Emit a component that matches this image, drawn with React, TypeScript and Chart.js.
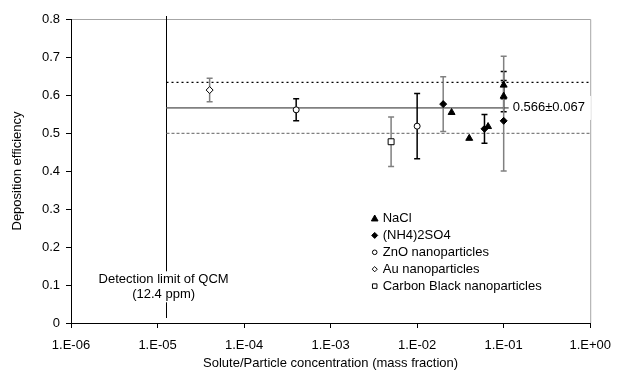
import { useEffect, useRef } from 'react';
import { Chart, registerables } from 'chart.js';

Chart.register(...registerables);

// ---- data ----
const xTickExponents = [-6, -5, -4, -3, -2, -1, 0];
const yTickValues = [0, 0.1, 0.2, 0.3, 0.4, 0.5, 0.6, 0.7, 0.8];

const seriesNames = ['NaCl', '(NH4)2SO4', 'ZnO nanoparticles', 'Au nanoparticles', 'Carbon Black nanoparticles'];

const naclX = [0.025, 0.04, 0.066, 0.1, 0.1];
const naclY = [0.554, 0.486, 0.517, 0.626, 0.597];
const naclErrHi = [0, 0, 0, 0.036, 0.041];
const naclErrLo = [0, 0, 0, 0.036, 0.041];

const amsX = [0.02, 0.06, 0.1];
const amsY = [0.576, 0.511, 0.532];
const amsErrHi = [0.072, 0.038, 0.17];
const amsErrLo = [0.072, 0.038, 0.132];

const znoX = [4e-4, 0.01];
const znoY = [0.561, 0.518];
const znoErr = [0.029, 0.086];

const auX = [4e-5];
const auY = [0.613];
const auErr = [0.031];

const cbX = [5e-3];
const cbY = [0.477];
const cbErr = [0.065];

const meanEff = 0.566;
const sdEff = 0.067;
const detectionLimit = 12.4e-6;
const meanLabel = '0.566±0.067';
const detectionText = ['Detection limit of QCM', '(12.4 ppm)'];
const xTitle = 'Solute/Particle concentration (mass fraction)';
const yTitle = 'Deposition efficiency';

const FONT = "'Liberation Sans', Arial, Helvetica, sans-serif";
const GRAY = '#808080';
const BLACK = '#000000';

const pts = (xs: number[], ys: number[]) => xs.map((x, i) => ({ x, y: ys[i] }));

function drawMarker(ctx: CanvasRenderingContext2D, style: string, x: number, y: number, r: number, fill: string) {
  ctx.beginPath();
  if (style === 'triangle') {
    ctx.moveTo(x, y - r);
    ctx.lineTo(x + r * 0.95, y + r * 0.7);
    ctx.lineTo(x - r * 0.95, y + r * 0.7);
    ctx.closePath();
  } else if (style === 'rectRot') {
    ctx.moveTo(x, y - r);
    ctx.lineTo(x + r, y);
    ctx.lineTo(x, y + r);
    ctx.lineTo(x - r, y);
    ctx.closePath();
  } else if (style === 'circle') {
    ctx.arc(x, y, r, 0, Math.PI * 2);
  } else {
    ctx.rect(x - r * 0.75, y - r * 0.75, r * 1.5, r * 1.5);
  }
  ctx.fillStyle = fill;
  ctx.fill();
  ctx.strokeStyle = BLACK;
  ctx.lineWidth = 1;
  ctx.stroke();
}

const overlay = {
  id: 'overlay',
  beforeDatasetsDraw(chart: any) {
    const { ctx, chartArea: ca, scales } = chart;
    const xs = scales.x;
    const ys = scales.y;
    ctx.save();
    // top & right frame
    ctx.strokeStyle = '#a6a6a6';
    ctx.lineWidth = 1;
    ctx.beginPath();
    ctx.moveTo(ca.left + 1, ca.top + 0.5);
    ctx.lineTo(ca.right + 0.5, ca.top + 0.5);
    ctx.lineTo(ca.right + 0.5, ca.bottom);
    ctx.stroke();

    // detection limit line
    const dx = Math.round(xs.getPixelForValue(detectionLimit)) + 0.5;
    ctx.strokeStyle = BLACK;
    ctx.lineWidth = 1;
    ctx.beginPath();
    ctx.moveTo(dx, ca.top - 3);
    ctx.lineTo(dx, ca.bottom - 5);
    ctx.stroke();

    // mean and ±sd lines
    const hline = (v: number, color: string, dash: number[], w: number) => {
      const py = ys.getPixelForValue(v);
      ctx.strokeStyle = color;
      ctx.lineWidth = w;
      ctx.setLineDash(dash);
      ctx.beginPath();
      ctx.moveTo(dx, py);
      ctx.lineTo(ca.right, py);
      ctx.stroke();
    };
    hline(meanEff + sdEff, BLACK, [2, 3], 1.3);
    hline(meanEff, GRAY, [], 1.6);
    hline(meanEff - sdEff, GRAY, [3, 2], 1.3);
    ctx.setLineDash([]);

    // error bars
    chart.data.datasets.forEach((ds: any) => {
      ds.data.forEach((p: any, j: number) => {
        const hi = ds.errHi[j];
        const lo = ds.errLo[j];
        if (!hi && !lo) return;
        const px = xs.getPixelForValue(p.x);
        const pTop = ys.getPixelForValue(p.y + hi);
        const pBot = ys.getPixelForValue(p.y - lo);
        ctx.strokeStyle = ds.errColors[j];
        ctx.lineWidth = 1.5;
        ctx.beginPath();
        ctx.moveTo(px, pTop);
        ctx.lineTo(px, pBot);
        ctx.moveTo(px - 3, pTop);
        ctx.lineTo(px + 3, pTop);
        ctx.moveTo(px - 3, pBot);
        ctx.lineTo(px + 3, pBot);
        ctx.stroke();
      });
    });
    ctx.restore();
  },
  afterDatasetsDraw(chart: any) {
    const { ctx, chartArea: ca, scales } = chart;
    const xs = scales.x;
    const ys = scales.y;
    ctx.save();
    ctx.font = `13px ${FONT}`;
    ctx.textBaseline = 'middle';

    // mean label with white box
    const my = ys.getPixelForValue(meanEff);
    const lx = xs.getPixelForValue(0.1) + 9;
    const lw = ctx.measureText(meanLabel).width;
    ctx.fillStyle = '#ffffff';
    ctx.fillRect(lx - 4, my - 12, lw + 10, 24);
    ctx.fillStyle = BLACK;
    ctx.textAlign = 'left';
    ctx.fillText(meanLabel, lx, my);

    // detection text
    const dx = xs.getPixelForValue(detectionLimit);
    const ty = ys.getPixelForValue(0.115);
    ctx.textAlign = 'center';
    const dw = Math.max(...detectionText.map((t) => ctx.measureText(t).width));
    ctx.fillStyle = '#ffffff';
    ctx.fillRect(dx - dw / 2 - 2, ty - 8, dw + 4, 31);
    ctx.fillStyle = BLACK;
    detectionText.forEach((t, i) => ctx.fillText(t, dx - 2, ty + i * 15));

    // legend
    const legX = xs.getPixelForValue(4e-3) + 0;
    const legY = ys.getPixelForValue(0.275);
    chart.data.datasets.forEach((ds: any, i: number) => {
      const yy = legY + i * 16.9;
      drawMarker(ctx, ds.pointStyle, legX - 8, yy, ds.legendRadius, ds.backgroundColor);
      ctx.fillStyle = BLACK;
      ctx.textAlign = 'left';
      ctx.fillText(seriesNames[i], legX, yy);
    });
    ctx.restore();
  },
};

export default function App() {
  const ref = useRef<HTMLCanvasElement | null>(null);
  useEffect(() => {
    document.body.style.margin = '0';
    Chart.defaults.font.family = FONT;
    Chart.defaults.color = BLACK;
    const canvas = ref.current!;
    const mk = (i: number, data: any[], style: string, radius: number, fill: string, errHi: number[], errLo: number[], errColors: string[], legendRadius: number) => ({
      label: seriesNames[i],
      data,
      pointStyle: style,
      radius,
      pointRadius: radius,
      backgroundColor: fill,
      borderColor: BLACK,
      borderWidth: 1,
      showLine: false,
      errHi,
      errLo,
      errColors,
      legendRadius,
    });
    const chart = new Chart(canvas, {
      type: 'scatter',
      data: {
        datasets: [
          mk(0, pts(naclX, naclY), 'triangle', 4, BLACK, naclErrHi, naclErrLo, naclX.map(() => BLACK), 3.5),
          mk(1, pts(amsX, amsY), 'rectRot', 3.5, BLACK, amsErrHi, amsErrLo, [GRAY, BLACK, GRAY], 3),
          mk(2, pts(znoX, znoY), 'circle', 3, '#ffffff', znoErr, znoErr, znoX.map(() => BLACK), 2.3),
          mk(3, pts(auX, auY), 'rectRot', 3.5, '#ffffff', auErr, auErr, auX.map(() => GRAY), 2.6),
          mk(4, pts(cbX, cbY), 'rect', 4.2, '#ffffff', cbErr, cbErr, cbX.map(() => GRAY), 3),
        ] as any,
      },
      options: {
        animation: false,
        responsive: false,
        layout: { padding: { top: 19, right: 26, left: 0, bottom: 0 } },
        plugins: { legend: { display: false }, tooltip: { enabled: false } },
        scales: {
          x: {
            type: 'logarithmic',
            position: 'bottom',
            min: 1e-6,
            max: 1,
            border: { color: BLACK, width: 1 },
            grid: { display: true, drawOnChartArea: false, drawTicks: true, tickLength: 5, color: BLACK },
            ticks: {
              autoSkip: false,
              maxRotation: 0,
              padding: 10,
              color: BLACK,
              font: { size: 13 },
              callback: (v: any) => {
                const e = Math.round(Math.log10(Number(v)));
                return `1.E${e < 0 ? '-' : '+'}${String(Math.abs(e)).padStart(2, '0')}`;
              },
            },
            afterBuildTicks: (s: any) => {
              s.ticks = xTickExponents.map((e) => ({ value: Math.pow(10, e) }));
            },
            afterFit: (s: any) => {
              s.height = 56;
            },
            title: { display: true, text: xTitle, font: { size: 13 }, color: BLACK, padding: { top: 0, bottom: 8 } },
          },
          y: {
            type: 'linear',
            min: 0,
            max: 0.8,
            border: { color: BLACK, width: 1 },
            grid: { display: true, drawOnChartArea: false, drawTicks: true, tickLength: 5, color: BLACK },
            ticks: {
              padding: 6,
              color: BLACK,
              font: { size: 13 },
              callback: (v: any) => (Number(v) === 0 ? '0' : Number(v).toFixed(1)),
            },
            afterBuildTicks: (s: any) => {
              s.ticks = yTickValues.map((v) => ({ value: v }));
            },
            afterFit: (s: any) => {
              s.width = 71;
            },
            title: { display: true, text: yTitle, font: { size: 13 }, color: BLACK, padding: { top: 10, bottom: 0 } },
          },
        },
      } as any,
      plugins: [overlay],
    });
    return () => chart.destroy();
  }, []);
  return <canvas ref={ref} width={621} height={379} style={{ display: 'block' }} />;
}
